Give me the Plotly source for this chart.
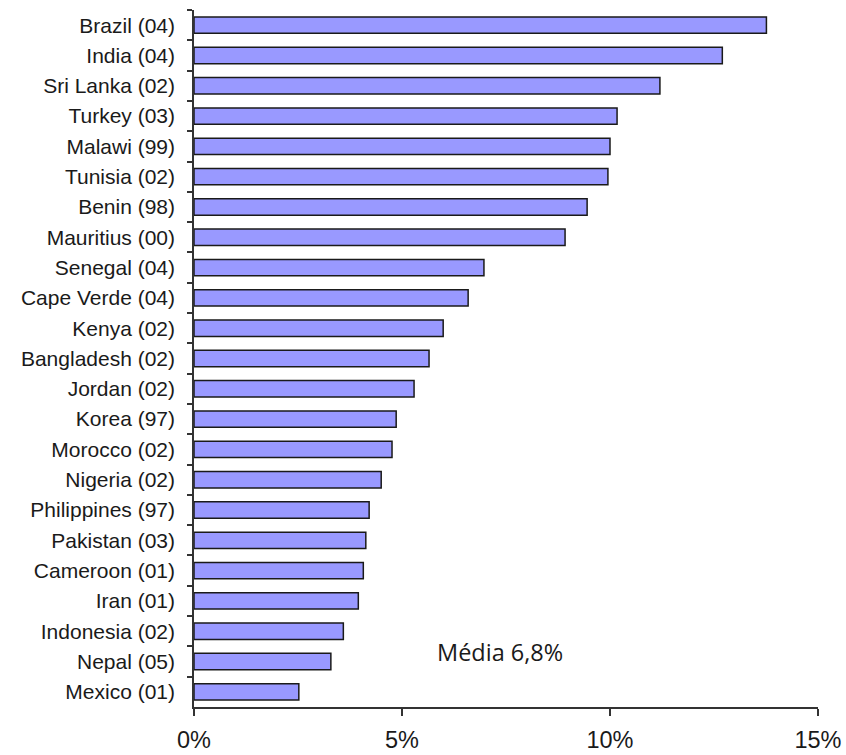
import plotly.graph_objects as go

countries = [
    "Brazil (04)", "India (04)", "Sri Lanka (02)", "Turkey (03)", "Malawi (99)",
    "Tunisia (02)", "Benin (98)", "Mauritius (00)", "Senegal (04)", "Cape Verde (04)",
    "Kenya (02)", "Bangladesh (02)", "Jordan (02)", "Korea (97)", "Morocco (02)",
    "Nigeria (02)", "Philippines (97)", "Pakistan (03)", "Cameroon (01)", "Iran (01)",
    "Indonesia (02)", "Nepal (05)", "Mexico (01)",
]
values_pct = [
    13.76, 12.70, 11.20, 10.17, 10.00,
    9.95, 9.45, 8.92, 6.97, 6.59,
    5.99, 5.65, 5.29, 4.86, 4.76,
    4.50, 4.21, 4.13, 4.07, 3.95,
    3.59, 3.29, 2.52,
]
x_ticks = [0, 5, 10, 15]
mean_label = "Média 6,8%"

fig = go.Figure(
    go.Bar(
        x=values_pct,
        y=countries,
        orientation="h",
        marker=dict(color="#9999FF", line=dict(color="#1a1a1a", width=1.5)),
        hoverinfo="x+y",
    )
)

fig.update_layout(
    width=846,
    height=755,
    margin=dict(l=194, r=28, t=10, b=48),
    paper_bgcolor="white",
    plot_bgcolor="white",
    bargap=0.46,
    showlegend=False,
    font=dict(family="Liberation Sans, Arial, sans-serif", color="#1a1a1a"),
    annotations=[
        dict(
            text=mean_label,
            xref="paper", yref="paper",
            x=0.49, y=0.079,
            xanchor="center", yanchor="middle",
            showarrow=False,
            font=dict(family="Open Sans, sans-serif", size=23.5, color="#1a1a1a"),
        )
    ],
)

fig.update_xaxes(
    range=[0, 15],
    tickvals=x_ticks,
    ticktext=[f"{v}%" for v in x_ticks],
    ticks="outside",
    ticklen=7,
    tickwidth=1.5,
    tickcolor="#333",
    showline=True,
    linecolor="#333",
    linewidth=1.5,
    showgrid=False,
    zeroline=False,
    tickfont=dict(size=23.5),
    ticklabelstandoff=4,
    automargin=False,
)

fig.update_yaxes(
    type="category",
    autorange="reversed",
    ticks="outside",
    tickson="boundaries",
    ticklen=5,
    tickwidth=1.5,
    tickcolor="#333",
    showline=True,
    linecolor="#333",
    linewidth=1.5,
    showgrid=False,
    zeroline=False,
    tickfont=dict(size=21),
    ticklabelstandoff=13,
    automargin=False,
)

fig.write_html("out.html")
